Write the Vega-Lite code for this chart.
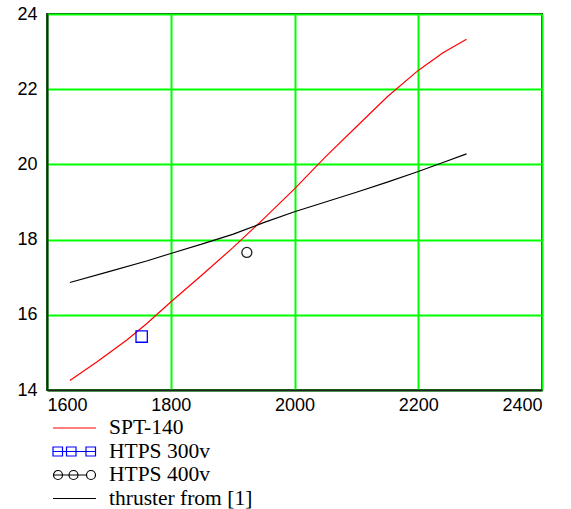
{
  "$schema": "https://vega.github.io/schema/vega-lite/v6.json",
  "width": 495,
  "height": 376,
  "autosize": "none",
  "padding": {"left": 47, "top": 14, "right": 29, "bottom": 119},
  "background": "white",
  "config": {
    "view": {"stroke": "#222222", "strokeWidth": 2},
    "axis": {
      "grid": true,
      "gridColor": "#00ff00",
      "gridWidth": 2,
      "gridOpacity": 1,
      "ticks": false,
      "domainColor": "#222222",
      "domainWidth": 2,
      "labelFont": "Liberation Sans",
      "labelFontSize": 18,
      "labelColor": "#000000",
      "format": "d",
      "title": null
    }
  },
  "data": {
    "values": [
      {"series": "SPT-140", "x": 1637, "y": 14.25},
      {"series": "SPT-140", "x": 1681, "y": 14.75},
      {"series": "SPT-140", "x": 1729, "y": 15.33},
      {"series": "SPT-140", "x": 1760, "y": 15.75},
      {"series": "SPT-140", "x": 1800, "y": 16.34},
      {"series": "SPT-140", "x": 1850, "y": 17.05},
      {"series": "SPT-140", "x": 1900, "y": 17.78},
      {"series": "SPT-140", "x": 1950, "y": 18.55},
      {"series": "SPT-140", "x": 2000, "y": 19.35},
      {"series": "SPT-140", "x": 2050, "y": 20.2},
      {"series": "SPT-140", "x": 2100, "y": 21.0},
      {"series": "SPT-140", "x": 2150, "y": 21.8},
      {"series": "SPT-140", "x": 2200, "y": 22.5},
      {"series": "SPT-140", "x": 2240, "y": 22.97},
      {"series": "SPT-140", "x": 2278, "y": 23.33},
      {"series": "thruster from [1]", "x": 1637, "y": 16.86},
      {"series": "thruster from [1]", "x": 1700, "y": 17.15},
      {"series": "thruster from [1]", "x": 1761, "y": 17.43},
      {"series": "thruster from [1]", "x": 1800, "y": 17.63},
      {"series": "thruster from [1]", "x": 1850, "y": 17.88},
      {"series": "thruster from [1]", "x": 1900, "y": 18.14},
      {"series": "thruster from [1]", "x": 1950, "y": 18.45},
      {"series": "thruster from [1]", "x": 2000, "y": 18.74},
      {"series": "thruster from [1]", "x": 2050, "y": 19.0},
      {"series": "thruster from [1]", "x": 2100, "y": 19.26},
      {"series": "thruster from [1]", "x": 2150, "y": 19.53},
      {"series": "thruster from [1]", "x": 2200, "y": 19.81},
      {"series": "thruster from [1]", "x": 2240, "y": 20.05},
      {"series": "thruster from [1]", "x": 2278, "y": 20.28},
      {"series": "HTPS 300v", "x": 1753, "y": 15.42},
      {"series": "HTPS 400v", "x": 1923, "y": 17.66}
    ]
  },
  "encoding": {
    "x": {
      "field": "x", "type": "quantitative",
      "scale": {"domain": [1600, 2400], "nice": false, "zero": false},
      "axis": {"values": [1600, 1800, 2000, 2200, 2400], "labelPadding": 6}
    },
    "y": {
      "field": "y", "type": "quantitative",
      "scale": {"domain": [14, 24], "nice": false, "zero": false},
      "axis": {"values": [14, 16, 18, 20, 22, 24], "labelPadding": 10}
    }
  },
  "layer": [
    {
      "transform": [{"filter": "datum.series === 'SPT-140' || datum.series === 'thruster from [1]'"}],
      "mark": {"type": "line", "strokeWidth": 1.2},
      "encoding": {
        "color": {
          "field": "series", "type": "nominal",
          "scale": {
            "domain": ["SPT-140", "HTPS 300v", "HTPS 400v", "thruster from [1]"],
            "range": ["#ff0000", "#0000ff", "#000000", "#000000"]
          },
          "legend": {
            "orient": "none",
            "legendX": -5,
            "legendY": 403,
            "title": null,
            "symbolSize": 400,
            "symbolStrokeWidth": 1.2,
            "labelFont": "Liberation Serif",
            "labelFontSize": 21.5,
            "labelColor": "#000000",
            "labelOffset": 45,
            "rowPadding": 1.5,
            "encode": {
              "symbols": {
                "update": {
                  "shape": {"signal": "datum.value === 'HTPS 300v' ? 'M0,0H4.25M0,-0.45h0.95v0.9h-0.95zM1.35,-0.45h0.95v0.9h-0.95zM3.3,-0.45h0.95v0.9h-0.95z' : datum.value === 'HTPS 400v' ? 'M0,0H3.35M0.05,0a0.45,0.45 0 1,0 0.9,0a0.45,0.45 0 1,0 -0.9,0M1.6,0a0.45,0.45 0 1,0 0.9,0a0.45,0.45 0 1,0 -0.9,0M3.35,0a0.45,0.45 0 1,0 0.9,0a0.45,0.45 0 1,0 -0.9,0' : 'M0,0H4.3'"},
                  "fill": {"value": "transparent"}
                }
              }
            }
          }
        }
      }
    },
    {
      "transform": [{"filter": "datum.series === 'HTPS 300v'"}],
      "mark": {"type": "point", "shape": "square", "size": 128, "color": "#0000ff", "filled": false, "strokeWidth": 1.3, "opacity": 1}
    },
    {
      "transform": [{"filter": "datum.series === 'HTPS 400v'"}],
      "mark": {"type": "point", "shape": "circle", "size": 100, "color": "#222222", "filled": false, "strokeWidth": 1.3, "opacity": 1}
    }
  ]
}
